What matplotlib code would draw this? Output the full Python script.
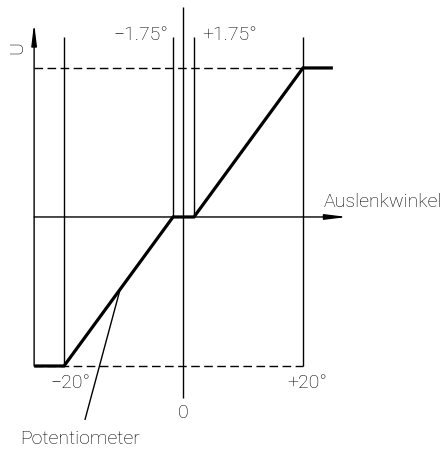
import matplotlib
matplotlib.use("Agg")
import matplotlib.pyplot as plt
import numpy as np

# Data: characteristic curve (angle in degrees, normalised voltage)
angles = [-25, -20, -1.75, 1.75, 20, 25]
voltage = [-1, -1, 0, 0, 1, 1]
ref_angles = [-20, -1.75, 1.75, 20]
ref_labels = ["−20°", "−1.75°", "+1.75°", "+20°"]
u_levels = [-1, 1]
pot_angle = -10.6

plt.rcParams['font.family'] = ['Roboto', 'DejaVu Sans']

fig = plt.figure(figsize=(4.43, 4.49), dpi=100)
ax = fig.add_axes([0, 0, 1, 1])
ax.set_xlim(-30.71, 43.43)
ax.set_ylim(-1.557, 1.456)
ax.axis('off')

thin = dict(color='black', lw=1.0, solid_capstyle='butt')

# vertical reference lines
for a in ref_angles:
    bottom = -1 if abs(a) > 5 else 0
    ax.plot([a, a], [bottom, 1.21], **thin)

# zero line (vertical)
ax.plot([0, 0], [-1.215, 1.41], **thin)

# dashed levels
for lv in u_levels:
    ax.plot([-25, 20], [lv, lv], color='black', lw=1.0, dashes=(6.2, 3.2))

# axes with arrows
arrow = dict(arrowstyle='-|>,head_length=1.3,head_width=0.16',
             color='black', lw=1.0, shrinkA=0, shrinkB=0)
ax.annotate('', xy=(-25, 1.30), xytext=(-25, -1), arrowprops=arrow)
ax.annotate('', xy=(27.4, 0), xytext=(-25, 0), arrowprops=arrow)

# characteristic
ax.plot(angles, voltage, color='black', lw=2.3, solid_joinstyle='miter', solid_capstyle='butt')

# leader line
pot_u = np.interp(pot_angle, angles, voltage)
ax.plot([pot_angle, -16.5], [pot_u, -1.362], **thin)

fs = 14
tk = dict(fontsize=fs, fontweight='light')
ax.text(-2.6, 1.19, ref_labels[1], ha='right', va='baseline', **tk)
ax.text(3.1, 1.19, ref_labels[2], ha='left', va='baseline', **tk)
ax.text(-19.0, -1.148, ref_labels[0], ha='center', va='baseline', **tk)
ax.text(20.7, -1.148, ref_labels[3], ha='center', va='baseline', **tk)
ax.text(0, -1.349, "0", ha='center', va='baseline', **tk)
ax.text(-27.9, 1.134, "U", ha='center', va='center', rotation=90, **tk)
ax.text(23.5, 0.067, "Auslenkwinkel", ha='left', va='baseline', **tk)
ax.text(-27.4, -1.523, "Potentiometer", ha='left', va='baseline', **tk)

fig.savefig("out.png", dpi=100)
